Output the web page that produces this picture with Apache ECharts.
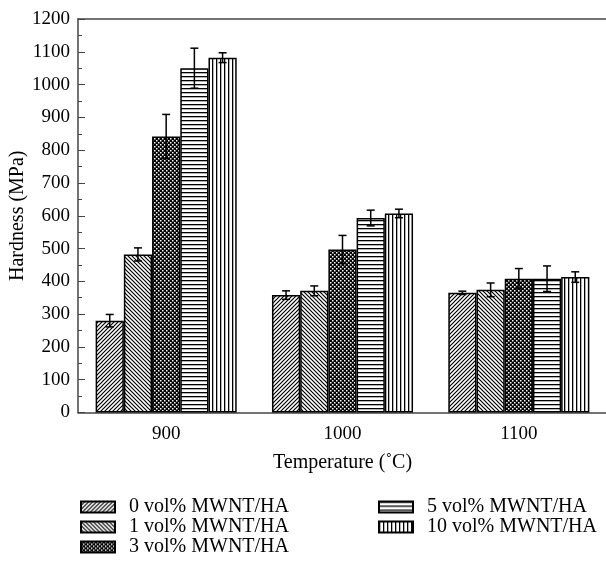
<!DOCTYPE html>
<html>
<head>
<meta charset="utf-8">
<script src="https://cdn.jsdelivr.net/npm/echarts@6/dist/echarts.min.js"></script>
<style>
  html, body { margin: 0; padding: 0; background: #fff; }
  #chart { width: 606px; height: 571px; }
</style>
</head>
<body>
<div id="chart"></div>
<script>
var categories = ['900', '1000', '1100'];
var names = ['0 vol% MWNT/HA', '1 vol% MWNT/HA', '3 vol% MWNT/HA', '5 vol% MWNT/HA', '10 vol% MWNT/HA'];
var mwnt0 = [280, 358, 365];
var mwnt1 = [482, 371, 374];
var mwnt3 = [842, 497, 408];
var mwnt5 = [1050, 593, 408];
var mwnt10 = [1082, 607, 413];
var err0 = [19, 13, 5];
var err1 = [20, 15, 21];
var err3 = [67, 43, 31];
var err5 = [61, 24, 39];
var err10 = [15, 13, 16];
var yTicks = [0, 1200, 100];

var values = [mwnt0, mwnt1, mwnt3, mwnt5, mwnt10];
var errors = [err0, err1, err3, err5, err10];
var FONT = 'Liberation Serif';

function makePattern(size, draw) {
    var c = document.createElement('canvas');
    c.width = size; c.height = size;
    var ctx = c.getContext('2d');
    ctx.fillStyle = '#fff';
    ctx.fillRect(0, 0, size, size);
    ctx.strokeStyle = '#000';
    ctx.fillStyle = '#000';
    ctx.lineWidth = 1.2;
    draw(ctx, size);
    return { image: c, repeat: 'repeat' };
}

var patterns = [
    makePattern(4, function (ctx, s) {   // '/'
        ctx.beginPath();
        ctx.moveTo(0, s); ctx.lineTo(s, 0);
        ctx.moveTo(-1, 1); ctx.lineTo(1, -1);
        ctx.moveTo(s - 1, s + 1); ctx.lineTo(s + 1, s - 1);
        ctx.stroke();
    }),
    makePattern(4, function (ctx, s) {   // '\'
        ctx.beginPath();
        ctx.moveTo(0, 0); ctx.lineTo(s, s);
        ctx.moveTo(-1, s - 1); ctx.lineTo(1, s + 1);
        ctx.moveTo(s - 1, -1); ctx.lineTo(s + 1, 1);
        ctx.stroke();
    }),
    makePattern(4, function (ctx, s) {   // dense dots
        ctx.fillRect(0, 0, s, s);
        ctx.fillStyle = '#fff';
        ctx.fillRect(0, 0, 1.5, 1.5);
        ctx.fillRect(2, 2, 1.5, 1.5);
    }),
    makePattern(4, function (ctx, s) {   // horizontal
        ctx.fillRect(0, 0, s, 1.3);
    }),
    makePattern(4, function (ctx, s) {   // vertical
        ctx.fillRect(0, 0, 1.3, s);
    })
];

var chart = echarts.init(document.getElementById('chart'));

var series = [];
values.forEach(function (vals, i) {
    series.push({
        name: names[i],
        type: 'bar',
        data: vals,
        barGap: 0,
        barCategoryGap: '20%',
        itemStyle: { color: patterns[i], borderColor: '#000', borderWidth: 1.5 }
    });
});
values.forEach(function (vals, i) {
    series.push({
        type: 'custom',
        z: 5,
        silent: true,
        data: vals.map(function (v, k) { return [k, v, errors[i][k]]; }),
        encode: { x: 0, y: 1 },
        renderItem: function (params, api) {
            var ci = api.value(0), v = api.value(1), e = api.value(2);
            var catW = api.size([1, 0])[0];
            var bw = catW * 0.8 / 5;
            var x = api.coord([ci, v])[0] + (i - 2) * bw;
            var yt = api.coord([ci, v + e])[1];
            var yb = api.coord([ci, v - e])[1];
            var st = { stroke: '#000', lineWidth: 1.5 };
            return {
                type: 'group',
                children: [
                    { type: 'line', shape: { x1: x, y1: yt, x2: x, y2: yb }, style: st },
                    { type: 'line', shape: { x1: x - 4, y1: yt, x2: x + 4, y2: yt }, style: st },
                    { type: 'line', shape: { x1: x - 4, y1: yb, x2: x + 4, y2: yb }, style: st }
                ]
            };
        }
    });
});

var legendBase = {
    orient: 'vertical',
    top: 492,
    itemWidth: 34,
    itemHeight: 11,
    itemGap: 0,
    icon: 'rect',
    textStyle: { fontFamily: FONT, fontSize: 20, color: '#000', lineHeight: 19, padding: [0, 0, 0, 9] }
};

chart.setOption({
    animation: false,
    grid: { left: 78, top: 19, width: 529, height: 393.5, outerBoundsMode: 'none', containLabel: false },
    legend: [
        Object.assign({}, legendBase, { left: 75, data: names.slice(0, 3) }),
        Object.assign({}, legendBase, { left: 373, data: names.slice(3) })
    ],
    xAxis: [{
        type: 'category',
        data: categories,
        name: 'Temperature (˚C)',
        nameLocation: 'middle',
        nameGap: 40,
        nameMoveOverlap: false,
        nameTextStyle: { fontFamily: FONT, fontSize: 20, color: '#000' },
        axisLine: { lineStyle: { color: '#444', width: 1.5 } },
        axisTick: { inside: true, length: 4, lineStyle: { color: '#444' } },
        axisLabel: { fontFamily: FONT, fontSize: 19, color: '#000', margin: 12 },
        splitLine: { show: false }
    }, {
        type: 'category',
        data: categories,
        position: 'top',
        axisLine: { lineStyle: { color: '#444', width: 1.5 } },
        axisTick: { show: false },
        axisLabel: { show: false }
    }],
    yAxis: {
        type: 'value',
        min: yTicks[0],
        max: yTicks[1],
        interval: yTicks[2],
        name: 'Hardness (MPa)',
        nameLocation: 'middle',
        nameGap: 50,
        nameMoveOverlap: false,
        nameTextStyle: { fontFamily: FONT, fontSize: 20, color: '#000' },
        axisLine: { show: true, lineStyle: { color: '#444', width: 1.5 } },
        axisTick: { show: true, inside: true, length: 7, lineStyle: { color: '#444' } },
        minorTick: { show: true, splitNumber: 2, length: 4, lineStyle: { color: '#444' } },
        axisLabel: { fontFamily: FONT, fontSize: 19, color: '#000', margin: 8, formatter: function (v) { return String(v); } },
        splitLine: { show: false }
    },
    series: series
});
</script>
</body>
</html>
